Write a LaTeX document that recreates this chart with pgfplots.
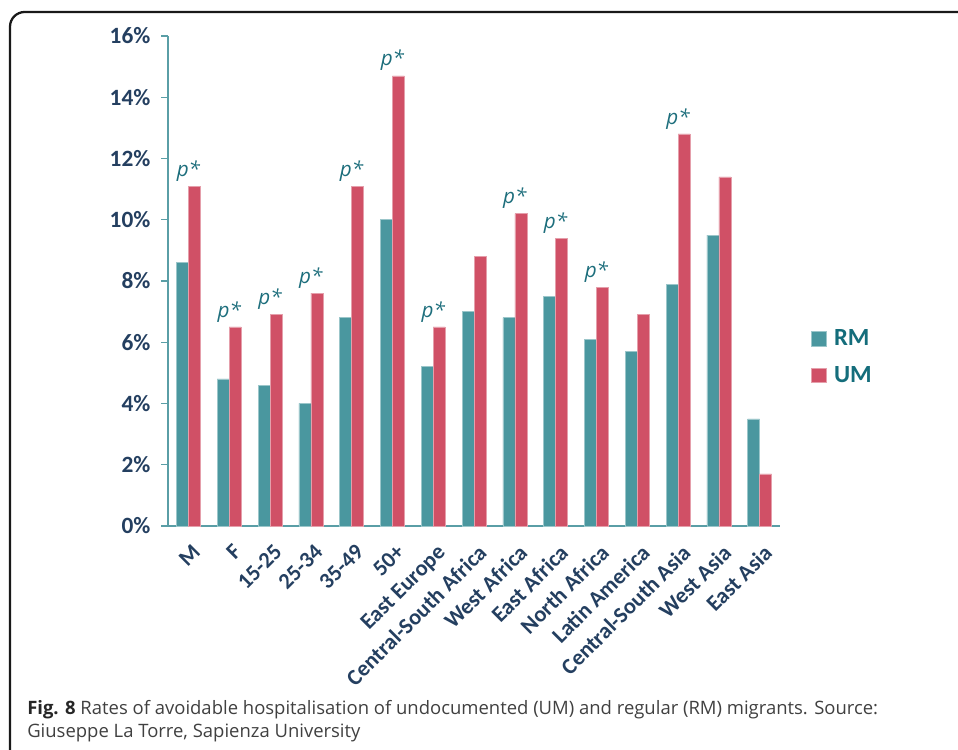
\documentclass[border=0pt]{standalone}
\usepackage{fontspec}
\setmainfont{Carlito}
\newfontfamily\capfont{Open Sans}
\usepackage{pgfplots}
\pgfplotsset{compat=1.18}
\definecolor{rmcol}{HTML}{4A979F}
\definecolor{umcol}{HTML}{D05066}
\definecolor{axcol}{HTML}{5A9EA6}
\definecolor{navy}{HTML}{243F60}
\definecolor{legtxt}{HTML}{146D7B}
\definecolor{ptxt}{HTML}{1D6E7C}
\definecolor{captxt}{HTML}{404040}
\begin{document}
\begin{tikzpicture}
\useasboundingbox (0,0) rectangle (718.5pt,562.5pt);
\begin{scope}
\clip (0,0) rectangle (718.5pt,562.5pt);
\draw[line width=1.7pt, rounded corners=11pt, draw=black!90] (7.5pt,-40pt) rectangle (770pt,553.5pt);
\end{scope}
\begin{axis}[
  at={(126pt,168pt)}, anchor=south west,
  scale only axis, width=459pt, height=367.5pt,
  ybar=0pt, bar width=9pt,
  xmin=-0.5, xmax=14.5, ymin=0, ymax=16,
  axis x line*=bottom, axis y line*=left,
  axis line style={draw=axcol, line width=0.9pt},
  every tick/.style={draw=axcol, line width=0.9pt},
  tick align=outside, major tick length=5pt, minor tick length=5pt,
  ytick={0,2,...,16},
  yticklabels={0\%,2\%,4\%,6\%,8\%,10\%,12\%,14\%,16\%},
  yticklabel style={font=\fontsize{17.5}{20}\selectfont\bfseries, text=navy, inner sep=0pt, xshift=-8pt},
  xtick={0,...,14},
  xtick style={draw=none},
  minor xtick={-0.5,0.5,...,14.5},
  xticklabels={M,F,15-25,25-34,35-49,50+,East Europe,Central-South Africa,West Africa,East Africa,North Africa,Latin America,Central-South Asia,West Asia,East Asia},
  xticklabel style={font=\fontsize{16.8}{18}\selectfont\bfseries, text=navy, rotate=45, anchor=north east, inner sep=0pt, xshift=-4pt, yshift=-7pt},
  legend style={draw=none, fill=none, at={(1.05,0.345)}, anchor=west, font=\fontsize{18.5}{20}\selectfont\bfseries, text=legtxt, row sep=10pt, inner sep=0pt, cells={anchor=west}, /tikz/every odd column/.style={column sep=4pt}},
  legend image code/.code={\fill[#1] (0pt,-5.5pt) rectangle (11pt,5.5pt);},
  clip=false,
]
\addplot[fill=rmcol, draw=rmcol!55!white, line width=0.4pt] coordinates {
 (0,8.6) (1,4.8) (2,4.6) (3,4.0) (4,6.8) (5,10.0) (6,5.2) (7,7.0) (8,6.8) (9,7.5) (10,6.1) (11,5.7) (12,7.9) (13,9.5) (14,3.5)};
\addplot[fill=umcol, draw=umcol!55!white, line width=0.4pt] coordinates {
 (0,11.1) (1,6.5) (2,6.9) (3,7.6) (4,11.1) (5,14.7) (6,6.5) (7,8.8) (8,10.2) (9,9.4) (10,7.8) (11,6.9) (12,12.8) (13,11.4) (14,1.7)};
\legend{RM,UM}
\foreach \xx/\yy in {0/11.1,1/6.5,2/6.9,3/7.6,4/11.1,5/14.7,6/6.5,8/10.2,9/9.4,10/7.8,12/12.8}{
  \edef\tmp{\noexpand\node[anchor=south, inner sep=0pt, yshift=3.5pt, font=\noexpand\capfont\noexpand\fontsize{15.5}{18}\noexpand\selectfont\noexpand\itshape, text=ptxt] at (axis cs:\xx,\yy) {p*};}
  \tmp
}
\end{axis}
\node[anchor=base west, inner sep=0pt, text=captxt, font=\capfont\fontsize{13.85}{16}\selectfont] at (20.25pt,26.5pt) {\textbf{\color{black!85}Fig. 8} Rates of avoidable hospitalisation of undocumented (UM) and regular (RM) migrants. Source:};
\node[anchor=base west, inner sep=0pt, text=captxt, font=\capfont\fontsize{13.85}{16}\selectfont] at (20.25pt,9.5pt) {Giuseppe La Torre, Sapienza University};
\end{tikzpicture}
\end{document}
